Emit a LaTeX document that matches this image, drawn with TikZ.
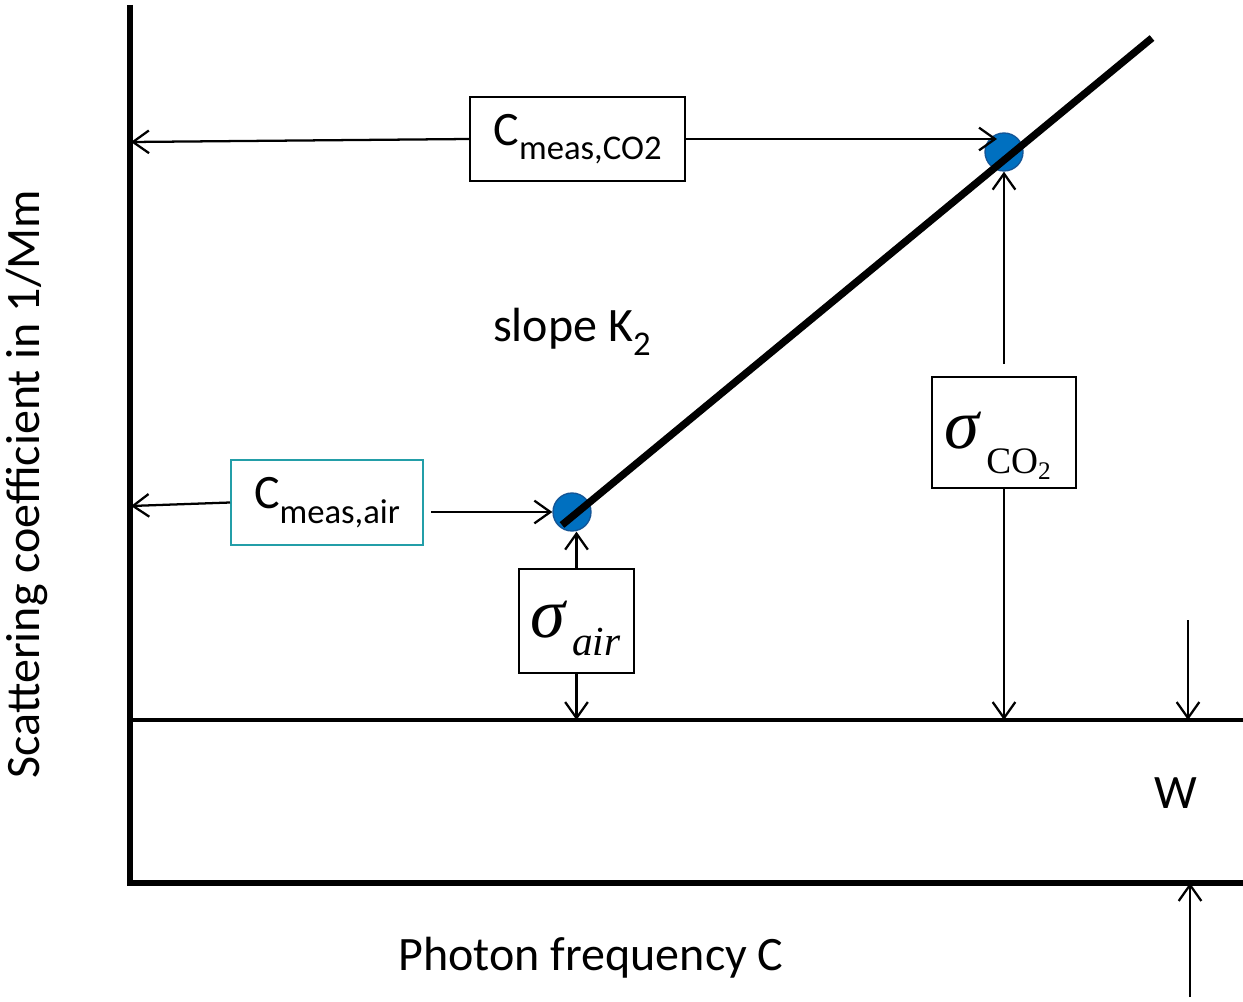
\documentclass[tikz,border=0pt]{standalone}
\usepackage{fontspec}
\setmainfont{Carlito}
\newfontfamily\tms{Liberation Serif}
\usetikzlibrary{arrows.meta}
\definecolor{teal2}{RGB}{35,158,168}
\definecolor{dotblue}{RGB}{0,112,192}
\definecolor{dotedge}{RGB}{20,85,150}
\tikzset{
  arr/.style={line width=1.7pt,-{Straight Barb[length=12pt,width=17pt]}},
  axisline/.style={line width=3.8pt},
  baseline/.style={line width=3pt},
  box/.style={draw=black,line width=1.5pt,fill=white,inner sep=0pt,anchor=center},
  dot/.style={circle,fill=dotblue,draw=dotedge,line width=1pt,minimum size=28.5pt,inner sep=0pt},
  lbl/.style={font=\fontsize{36}{40}\selectfont,inner sep=0pt},
  stxt/.style={inner sep=0pt,anchor=base west},
}
\newcommand{\sub}[1]{\raisebox{-11pt}{\fontsize{26}{28}\selectfont #1}}
\begin{document}
\begin{tikzpicture}[x=0.75pt,y=-0.75pt]
\useasboundingbox (0,0) rectangle (1243,1002);
% axes
\coordinate (ytop) at (130,5);
\coordinate (O) at (130,883);
\coordinate (xend) at (1243,883);
\coordinate (b0) at (130,720);
\coordinate (b1) at (1243,720);
\draw[axisline] (ytop) -- (O) -- (xend);
\draw[baseline] (b0) -- (b1);
% dots
\node[dot] (dair) at (572,512) {};
\node[dot] (dco2) at (1004,152) {};
% slope line
\coordinate (l0) at (562,525);
\coordinate (l1) at (1152,38);
\draw[line width=5.5pt] (l0) -- (l1);
% boxes
\node[box,minimum width=161pt,minimum height=63pt] (bco2) at (577.5,139)
  {\fontsize{36}{40}\selectfont C\sub{meas,CO2}};
\node[box,draw=teal2,minimum width=144pt,minimum height=64pt] (bair) at (327,502.5)
  {\fontsize{36}{40}\selectfont C\sub{meas,air}};
\node[box,minimum width=86pt,minimum height=78pt] (sair) at (576.5,621) {};
\node[stxt] (sairt) at (530,637) {\tms\itshape\fontsize{53}{53}\selectfont σ};
\node[stxt] (sairs) at (572,655) {\tms\itshape\fontsize{31}{31}\selectfont air};
\node[box,minimum width=108pt,minimum height=83pt] (sco2) at (1004,432.5) {};
\node[stxt] (sco2t) at (944,448) {\tms\itshape\fontsize{53}{53}\selectfont σ};
\node[stxt] (sco2s) at (986,473) {\tms\fontsize{28}{28}\selectfont CO\raisebox{-5pt}{\fontsize{19}{19}\selectfont 2}};
% connectors
\coordinate (aco2) at (131,142);
\coordinate (aair) at (131,506);
\coordinate (tco2) at (997,139);
\draw[arr] (bco2.west) -- (aco2);
\draw[arr] (bco2.east) -- (tco2);
\draw[arr] (bair.west) -- (aair);
\draw[arr] ([xshift=5.5pt]bair.east |- dair) -- (dair.west);
\draw[arr] (sair.north) -- (sair.north |- dair.south);
\draw[arr] (sair.south) -- (sair.south |- b0);
\draw[arr] ([yshift=9pt]sco2.north) -- (dco2.south);
\draw[arr] (sco2.south) -- (sco2.south |- b0);
% W
\coordinate (w0) at (1188,620);
\coordinate (w1) at (1188,720);
\coordinate (w2) at (1190,997);
\coordinate (w3) at (1190,883);
\draw[arr] (w0) -- (w1);
\draw[arr] (w2) -- (w3);
\node[lbl] (W) at (1176,793) {W};
% labels
\node[lbl] (slope) at (572,332) {slope K\sub{2}};
\node[lbl] (xl) at (591,958) {Photon frequency C};
\node[lbl,rotate=90] (yl) at (27,484) {Scattering coefficient in 1/Mm};
\end{tikzpicture}
\end{document}
